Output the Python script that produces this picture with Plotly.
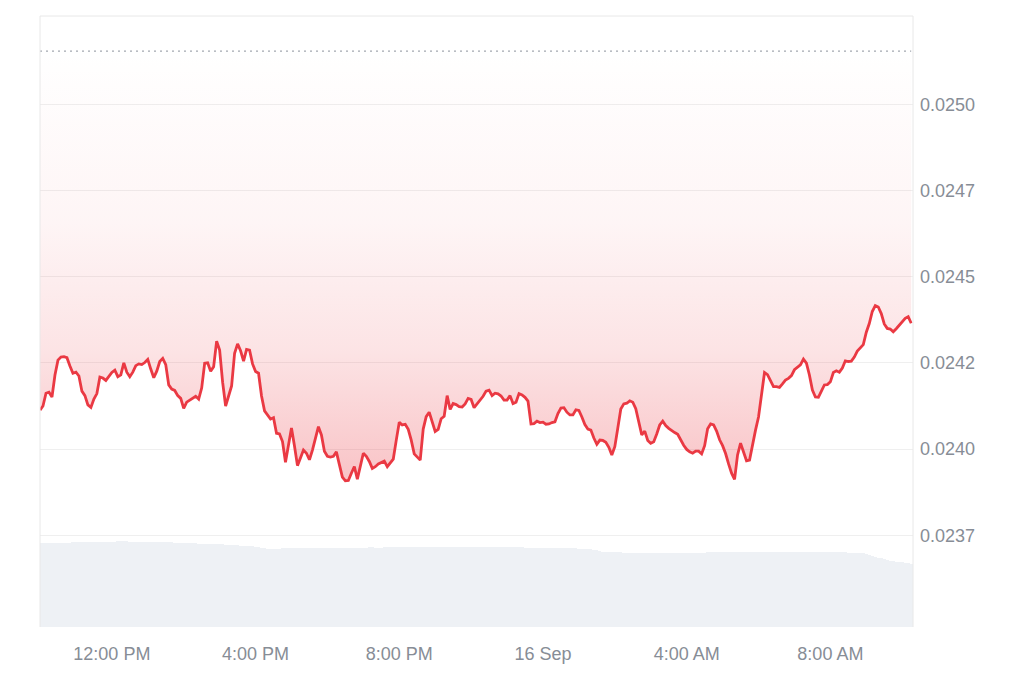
import pandas as pd
import plotly.graph_objects as go

START = "2024-09-15 10:00"
X_RANGE = ["2024-09-15 10:00", "2024-09-16 10:18"]

# Price every 5 minutes
PRICE = [
    0.024113, 0.024125, 0.024162, 0.024165, 0.024151, 0.024215, 0.024258, 0.024267, 0.024268, 0.024265, 0.024241, 0.024220,
    0.024223, 0.024212, 0.024168, 0.024155, 0.024128, 0.024121, 0.024145, 0.024161, 0.024209, 0.024206, 0.024199, 0.024210,
    0.024222, 0.024229, 0.024210, 0.024215, 0.024250, 0.024223, 0.024210, 0.024223, 0.024242, 0.024247, 0.024245, 0.024251,
    0.024260, 0.024232, 0.024207, 0.024226, 0.024254, 0.024263, 0.024245, 0.024186, 0.024174, 0.024170, 0.024155, 0.024147,
    0.024118, 0.024136, 0.024141, 0.024146, 0.024153, 0.024145, 0.024177, 0.024249, 0.024250, 0.024226, 0.024239, 0.024313,
    0.024287, 0.024194, 0.024125, 0.024154, 0.024183, 0.024278, 0.024305, 0.024285, 0.024255, 0.024289, 0.024287, 0.024247,
    0.024225, 0.024220, 0.024154, 0.024111, 0.024097, 0.024087, 0.024091, 0.024046, 0.024044, 0.024022, 0.023962, 0.024010,
    0.024061, 0.024009, 0.023952, 0.023974, 0.023997, 0.023988, 0.023969, 0.023997, 0.024033, 0.024065, 0.024041, 0.023994,
    0.023979, 0.023977, 0.023979, 0.023992, 0.023955, 0.023919, 0.023908, 0.023909, 0.023930, 0.023949, 0.023913, 0.023951,
    0.023988, 0.023979, 0.023964, 0.023944, 0.023949, 0.023957, 0.023962, 0.023965, 0.023949, 0.023959, 0.023971, 0.024026,
    0.024078, 0.024070, 0.024072, 0.024057, 0.024026, 0.023986, 0.023977, 0.023968, 0.024058, 0.024094, 0.024107, 0.024078,
    0.024051, 0.024057, 0.024088, 0.024095, 0.024155, 0.024115, 0.024132, 0.024129, 0.024123, 0.024122, 0.024131, 0.024147,
    0.024144, 0.024120, 0.024131, 0.024142, 0.024153, 0.024168, 0.024171, 0.024155, 0.024162, 0.024160, 0.024154, 0.024142,
    0.024142, 0.024155, 0.024132, 0.024136, 0.024161, 0.024157, 0.024150, 0.024139, 0.024073, 0.024074, 0.024081, 0.024077,
    0.024078, 0.024072, 0.024073, 0.024077, 0.024079, 0.024103, 0.024119, 0.024120, 0.024107, 0.024099, 0.024099, 0.024114,
    0.024112, 0.024093, 0.024071, 0.024058, 0.024055, 0.024032, 0.024014, 0.024026, 0.024025, 0.024020, 0.024005, 0.023983,
    0.024007, 0.024061, 0.024116, 0.024131, 0.024133, 0.024140, 0.024136, 0.024117, 0.024083, 0.024041, 0.024052, 0.024025,
    0.024017, 0.024021, 0.024044, 0.024070, 0.024081, 0.024068, 0.024060, 0.024053, 0.024048, 0.024043, 0.024026, 0.024011,
    0.023999, 0.023992, 0.023988, 0.023994, 0.023994, 0.023986, 0.024010, 0.024059, 0.024073, 0.024070, 0.024052, 0.024027,
    0.024010, 0.023987, 0.023957, 0.023930, 0.023912, 0.023983, 0.024017, 0.023988, 0.023966, 0.023968, 0.024017, 0.024055,
    0.024093, 0.024160, 0.024222, 0.024216, 0.024196, 0.024181, 0.024181, 0.024179, 0.024189, 0.024200, 0.024205, 0.024213,
    0.024230, 0.024237, 0.024244, 0.024261, 0.024249, 0.024215, 0.024171, 0.024151, 0.024150, 0.024168, 0.024186, 0.024187,
    0.024195, 0.024222, 0.024227, 0.024223, 0.024235, 0.024256, 0.024254, 0.024255, 0.024267, 0.024284, 0.024294, 0.024303,
    0.024339, 0.024364, 0.024399, 0.024416, 0.024412, 0.024393, 0.024363, 0.024350, 0.024348, 0.024340, 0.024349, 0.024359,
    0.024367, 0.024379, 0.024384, 0.024365,
]

# Volume every 5 minutes (millions, approx.)
VOLUME = [
    8.40, 8.40, 8.41, 8.42, 8.42, 8.43, 8.44, 8.44, 8.45, 8.45, 8.45, 8.46,
    8.47, 8.48, 8.50, 8.52, 8.53, 8.54, 8.55, 8.55, 8.55, 8.55, 8.55, 8.55,
    8.55, 8.55, 8.56, 8.56, 8.56, 8.56, 8.55, 8.55, 8.54, 8.53, 8.52, 8.50,
    8.48, 8.47, 8.50, 8.53, 8.54, 8.54, 8.53, 8.52, 8.48, 8.45, 8.43, 8.42,
    8.40, 8.39, 8.38, 8.37, 8.36, 8.35, 8.34, 8.33, 8.32, 8.31, 8.30, 8.29,
    8.28, 8.26, 8.24, 8.22, 8.20, 8.18, 8.16, 8.14, 8.12, 8.10, 8.08, 8.06,
    8.03, 8.00, 7.95, 7.90, 7.85, 7.80, 7.80, 7.82, 7.85, 7.87, 7.88, 7.89,
    7.90, 7.90, 7.91, 7.90, 7.90, 7.91, 7.91, 7.90, 7.90, 7.91, 7.92, 7.92,
    7.92, 7.93, 7.93, 7.94, 7.94, 7.95, 7.95, 7.95, 7.94, 7.94, 7.95, 7.95,
    7.95, 7.95, 7.96, 7.96, 7.95, 7.95, 7.95, 7.96, 7.97, 7.97, 7.98, 7.98,
    7.99, 8.00, 8.00, 8.01, 8.02, 8.02, 8.03, 8.03, 8.03, 8.04, 8.04, 8.04,
    8.04, 8.05, 8.05, 8.05, 8.05, 8.05, 8.05, 8.05, 8.04, 8.04, 8.04, 8.04,
    8.04, 8.03, 8.03, 8.03, 8.03, 8.02, 8.02, 8.02, 8.02, 8.01, 8.01, 8.01,
    8.00, 8.00, 7.99, 7.98, 7.97, 7.96, 7.95, 7.94, 7.93, 7.92, 7.91, 7.90,
    7.89, 7.88, 7.88, 7.87, 7.87, 7.87, 7.87, 7.87, 7.86, 7.86, 7.86, 7.86,
    7.85, 7.84, 7.82, 7.80, 7.76, 7.72, 7.66, 7.60, 7.55, 7.53, 7.52, 7.51,
    7.50, 7.48, 7.46, 7.44, 7.42, 7.40, 7.38, 7.37, 7.37, 7.37, 7.37, 7.37,
    7.37, 7.37, 7.37, 7.36, 7.36, 7.36, 7.36, 7.36, 7.37, 7.38, 7.40, 7.42,
    7.43, 7.44, 7.44, 7.44, 7.45, 7.45, 7.45, 7.46, 7.46, 7.47, 7.48, 7.50,
    7.52, 7.53, 7.53, 7.53, 7.53, 7.53, 7.53, 7.53, 7.53, 7.53, 7.53, 7.53,
    7.53, 7.53, 7.53, 7.53, 7.53, 7.53, 7.52, 7.52, 7.52, 7.52, 7.52, 7.52,
    7.52, 7.52, 7.52, 7.52, 7.51, 7.51, 7.51, 7.51, 7.51, 7.51, 7.50, 7.50,
    7.50, 7.50, 7.49, 7.49, 7.48, 7.47, 7.45, 7.42, 7.40, 7.38, 7.37, 7.36,
    7.33, 7.25, 7.15, 7.05, 6.95, 6.88, 6.85, 6.75, 6.65, 6.58, 6.55, 6.53,
    6.50, 6.45, 6.40, 6.35,
]

BASELINE = 0.025154

Y_TICKVALS = [0.02375, 0.0240, 0.02425, 0.0245, 0.02475, 0.0250]
Y_TICKTEXT = ["0.0237", "0.0240", "0.0242", "0.0245", "0.0247", "0.0250"]
Y_RANGE = [0.023484, 0.025256]

X_TICKVALS = ["2024-09-15 12:00", "2024-09-15 16:00", "2024-09-15 20:00",
              "2024-09-16 00:00", "2024-09-16 04:00", "2024-09-16 08:00"]
X_TICKTEXT = ["12:00 PM", "4:00 PM", "8:00 PM", "16 Sep", "4:00 AM", "8:00 AM"]

times = pd.date_range(START, periods=len(PRICE), freq="5min")

RED = "#ea3943"
GRAY_TEXT = "#878d96"
FONT = "Liberation Sans, Arial, Helvetica, sans-serif"

fig = go.Figure()

fig.add_trace(go.Bar(
    x=times, y=VOLUME, yaxis="y2",
    marker=dict(color="#eef1f5", line=dict(width=0)),
    width=300000, hoverinfo="skip", showlegend=False,
))

fig.add_trace(go.Scatter(
    x=[times[0], times[-1]], y=[BASELINE, BASELINE],
    mode="lines", line=dict(color="#a3a8b0", width=1.3, dash="2px,4px"),
    hoverinfo="skip", showlegend=False,
))

fig.add_trace(go.Scatter(
    x=times, y=PRICE, mode="lines",
    line=dict(color=RED, width=2.8),
    fill="tonexty",
    fillgradient=dict(
        type="vertical", start=min(PRICE), stop=BASELINE,
        colorscale=[[0, "rgba(234,57,67,0.30)"], [0.3, "rgba(234,57,67,0.14)"],
                    [0.6, "rgba(234,57,67,0.05)"], [1, "rgba(234,57,67,0.0)"]],
    ),
    hoverinfo="skip", showlegend=False,
))

box = "#e8e8e8"
fig.update_layout(
    width=1016, height=675,
    margin=dict(l=32, r=111, t=8, b=56),
    paper_bgcolor="white", plot_bgcolor="white",
    font=dict(family=FONT, size=18, color=GRAY_TEXT),
    bargap=0,
    xaxis=dict(
        type="date", range=X_RANGE, tickvals=X_TICKVALS, ticktext=X_TICKTEXT,
        showgrid=False, zeroline=False, showline=False,
        ticks="", ticklabelstandoff=14,
        tickfont=dict(family=FONT, size=18, color=GRAY_TEXT),
    ),
    yaxis=dict(
        side="right", range=Y_RANGE, tickvals=Y_TICKVALS, ticktext=Y_TICKTEXT,
        showgrid=True, gridcolor="#efefef", gridwidth=1, zeroline=False,
        showline=False, ticks="", ticklabelstandoff=6,
        tickfont=dict(family=FONT, size=18, color=GRAY_TEXT),
    ),
    yaxis2=dict(overlaying="y", range=[0, 61.1], visible=False, fixedrange=True),
    shapes=[
        dict(type="line", xref="paper", yref="paper", x0=0, x1=1, y0=1, y1=1,
             line=dict(color=box, width=1)),
        dict(type="line", xref="paper", yref="paper", x0=0, x1=0, y0=0, y1=1,
             line=dict(color=box, width=1)),
        dict(type="line", xref="paper", yref="paper", x0=1, x1=1, y0=0, y1=1,
             line=dict(color=box, width=1)),
    ],
)

fig.write_html("out.html")
